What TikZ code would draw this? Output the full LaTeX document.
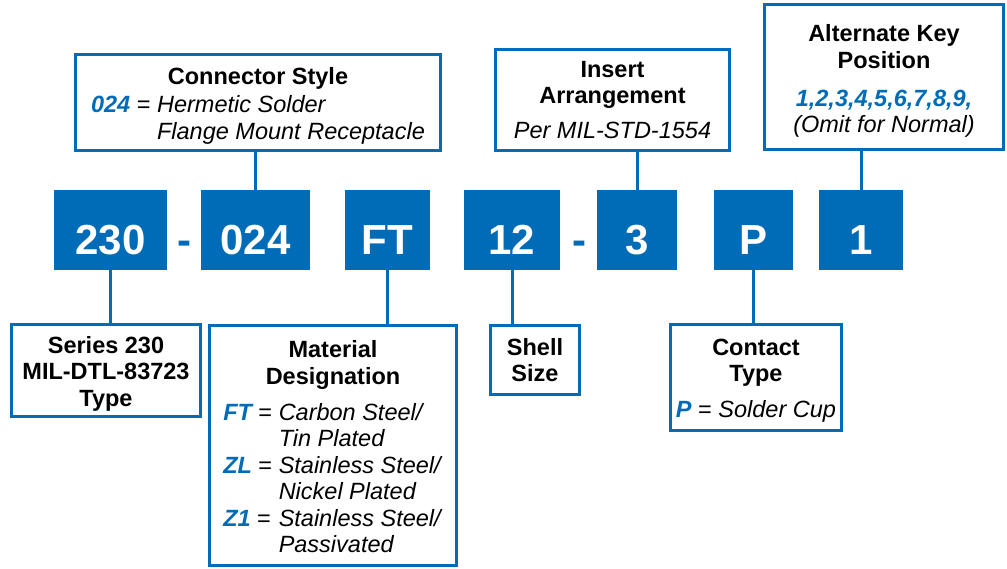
\documentclass[tikz,border=0pt]{standalone}
\usepackage{fontspec}
\setmainfont{Liberation Sans}
\usepackage{xcolor}
\usepackage{tikz}
\usetikzlibrary{calc}
\definecolor{azulpeca}{RGB}{0,107,182}
\newcommand{\codigo}[1]{\textcolor{azulpeca}{\bfseries\itshape #1}}
\newcommand{\topo}[1]{\rule{0pt}{#1}}

\begin{document}
\begin{tikzpicture}[x=1pt, y=-1pt,
      bloco/.style={fill=azulpeca, text=white, inner sep=0pt,
        minimum height=80pt, text height=50pt, text depth=0pt,
        font=\fontsize{42}{50}\selectfont\bfseries},
      hifen/.style={text=azulpeca, inner sep=0pt,
        text height=50pt, text depth=0pt,
        font=\fontsize{42}{50}\selectfont\bfseries},
      caixa/.style={draw=azulpeca, line width=3pt, fill=white,
        inner sep=0pt, align=center,
        font=\fontsize{23.5}{26.5}\selectfont},
      liga/.style={draw=azulpeca, line width=3pt}]
    \useasboundingbox (0,0) rectangle (1007,569);

    % --- numero da peca ---
    \node[bloco, minimum width=113pt] (b230) at (110.5,230) {230};
    \node[hifen] (h1) at (184,230) {-};
    \node[bloco, minimum width=109pt] (b024) at (255.5,230) {024};
    \node[bloco, minimum width=85pt]  (bFT)  at (387.5,230) {FT};
    \node[bloco, minimum width=96pt]  (b12)  at (512,230)   {12};
    \node[hifen] (h2) at (579.5,230) {-};
    \node[bloco, minimum width=80pt]  (b3)   at (637,230)   {3};
    \node[bloco, minimum width=79pt]  (bP)   at (753.5,230) {P};
    \node[bloco, minimum width=84pt]  (b1)   at (861,230)   {1};

    % --- caixas de cima ---
    \node[caixa, minimum width=365pt, minimum height=96pt] (estilo)
      at (258,102.5) {\topo{27pt}\textbf{Connector Style}\\[1.5pt]
      \begin{tabular}[t]{@{}l@{\ }l@{}}
        \codigo{024} = & \textit{Hermetic Solder}\\
                       & \textit{Flange Mount Receptacle}
      \end{tabular}};
    \node[caixa, minimum width=234pt, minimum height=101pt] (arranjo)
      at (612.5,100) {\textbf{Insert}\\\textbf{Arrangement}\\[8.5pt]
      \textit{Per MIL-STD-1554}};
    \node[caixa, minimum width=239pt, minimum height=145pt] (chave)
      at (884,77) {\topo{25pt}\textbf{Alternate Key}\\\textbf{Position}\\[11.5pt]
      \codigo{1,2,3,4,5,6,7,8,9,}\\\textit{(Omit for Normal)}};

    % --- caixas de baixo ---
    \node[caixa, minimum width=189pt, minimum height=92pt] (serie)
      at (106,370.5) {\topo{23pt}\textbf{Series 230}\\\textbf{MIL-DTL-83723}\\
      \textbf{Type}};
    \node[caixa, minimum width=247pt, minimum height=240pt] (material)
      at (333,445.5) {\topo{27pt}\textbf{Material}\\\textbf{Designation}\\[9.5pt]
      \begin{tabular}[t]{@{}l@{\ }l@{}}
        \codigo{FT} = & \textit{Carbon Steel/}\\
                      & \textit{Tin Plated}\\
        \codigo{ZL} = & \textit{Stainless Steel/}\\
                      & \textit{Nickel Plated}\\
        \codigo{Z1} = & \textit{Stainless Steel/}\\
                      & \textit{Passivated}
      \end{tabular}};
    \node[caixa, minimum width=89pt, minimum height=69pt] (casco)
      at (535,360) {\textbf{Shell}\\\textbf{Size}};
    \node[caixa, minimum width=171pt, minimum height=106pt] (contato)
      at (756,377.5) {\topo{23pt}\textbf{Contact}\\\textbf{Type}\\[9.5pt]
      \codigo{P} = \textit{Solder Cup}};

    % --- ligacoes ---
    \draw[liga] (b024.north) -- (b024.north |- estilo.south);
    \draw[liga] (b3.north)   -- (b3.north |- arranjo.south);
    \draw[liga] (b1.north)   -- (b1.north |- chave.south);
    \draw[liga] (b230.south) -- (b230.south |- serie.north);
    \draw[liga] (bFT.south)  -- (bFT.south |- material.north);
    \draw[liga] (b12.south)  -- (b12.south |- casco.north);
    \draw[liga] (bP.south)   -- (bP.south |- contato.north);
  \end{tikzpicture}
\end{document}
